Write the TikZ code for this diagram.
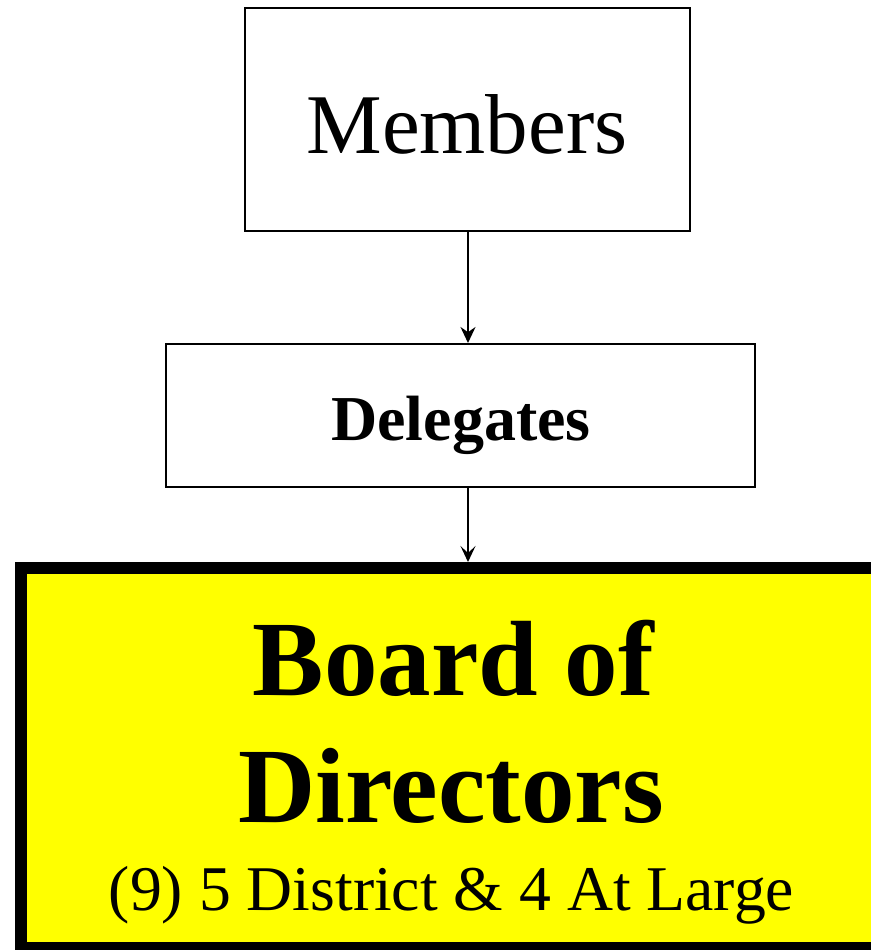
\documentclass[tikz,border=0pt]{standalone}
\usepackage{fontspec}
\setmainfont{Liberation Serif}
\usetikzlibrary{arrows.meta}
\definecolor{boardyellow}{RGB}{255,255,0}
\begin{document}
\begin{tikzpicture}[x=1pt,y=-1pt,
  plainbox/.style={draw=black,line width=2pt,fill=white},
  conn/.style={line width=2pt,-{Stealth[length=16pt,width=15pt]}},
  conn2/.style={line width=2pt,-{Stealth[length=16pt,width=15pt,inset=7pt]}}]
\useasboundingbox (0,0) rectangle (870,950);
\draw[plainbox] (245,8) rectangle (690,231);
\draw[plainbox] (166,344) rectangle (755,487);
\draw[line width=12pt,fill=boardyellow] (21,568) rectangle (882,948);
\coordinate (mbot) at (468,232);
\coordinate (dtop) at (468,343);
\coordinate (dbot) at (468,488);
\coordinate (btop) at (468,562);
\node[anchor=base,inner sep=0pt,font=\fontsize{85}{100}\selectfont] (members) at (467,153) {Members};
\node[anchor=base,inner sep=0pt,font=\fontsize{64}{76}\selectfont\bfseries] (delegates) at (461,440) {Delegates};
\node[anchor=base,inner sep=0pt,font=\fontsize{107}{126}\selectfont\bfseries] (board) at (453.5,695) {Board of};
\node[anchor=base,inner sep=0pt,font=\fontsize{107}{126}\selectfont\bfseries] (directors) at (451,822) {Directors};
\node[anchor=base,inner sep=0pt,font=\fontsize{63.7}{74}\selectfont] (seats) at (451.5,910) {(9) 5 District \& 4 At Large};
\draw[conn] (mbot) -- (dtop);
\draw[conn2] (dbot) -- (btop);
\end{tikzpicture}
\end{document}
